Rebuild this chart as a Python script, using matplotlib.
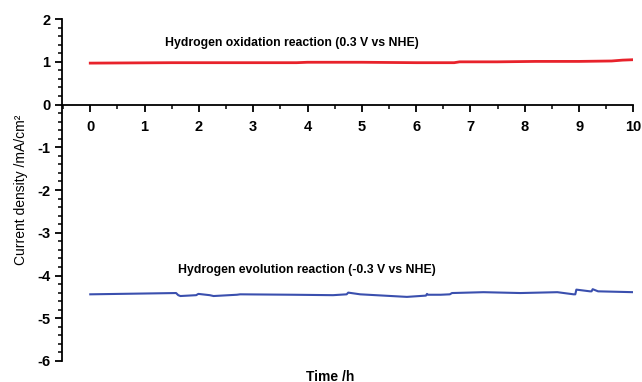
import numpy as np
import matplotlib
matplotlib.use('Agg')
from matplotlib import pyplot as plt
from matplotlib.ticker import MultipleLocator

plt.rcParams['font.family'] = ['Liberation Sans', 'DejaVu Sans']
plt.rcParams['axes.unicode_minus'] = False

# oxidation (red) trace
hor_t = [0.0, 1.5, 2.5, 3.8, 4.0, 5.0, 6.0, 6.7, 6.8, 7.5, 8.2, 9.0, 9.6, 9.8, 10.0]
hor_j = [0.97, 0.98, 0.98, 0.98, 0.99, 0.99, 0.98, 0.98, 1.00, 1.00, 1.01, 1.01, 1.02, 1.04, 1.05]

# evolution (blue) trace
her_t = [0.0, 1.58, 1.62, 1.66, 1.95, 1.99, 2.2, 2.27, 2.7, 2.76, 3.74, 4.47, 4.72, 4.75,
         4.97, 5.83, 6.18, 6.2, 6.22, 6.45, 6.62, 6.66, 7.24, 7.92, 8.6, 8.9, 8.93, 8.95,
         9.2, 9.23, 9.25, 9.35, 10.0]
her_j = [-4.44, -4.41, -4.46, -4.48, -4.46, -4.43, -4.46, -4.48, -4.45, -4.44, -4.45,
         -4.46, -4.44, -4.40, -4.44, -4.50, -4.47, -4.43, -4.45, -4.45, -4.44, -4.41,
         -4.39, -4.41, -4.39, -4.44, -4.44, -4.33, -4.37, -4.37, -4.32, -4.37, -4.39]

x_ticks = list(range(0, 11))
y_ticks = list(range(-6, 3))

fig = plt.figure(figsize=(6.42, 3.82), dpi=100)
ax = fig.add_axes([0.0966, 0.055, 0.89, 0.895])

ax.plot(hor_t, hor_j, color='#e8222b', lw=2.0)
ax.plot(her_t, her_j, color='#3a4fae', lw=1.5)

ax.set_xlim(-0.52, 10)
ax.set_ylim(-6, 2)

ax.spines['top'].set_visible(False)
ax.spines['right'].set_visible(False)
ax.spines['bottom'].set_position(('data', 0))
ax.spines['left'].set_linewidth(1.3)
ax.spines['bottom'].set_linewidth(1.3)

ax.set_xticks(x_ticks)
ax.set_yticks(y_ticks)
ax.xaxis.set_minor_locator(MultipleLocator(0.5))
ax.yaxis.set_minor_locator(MultipleLocator(0.2))
ax.tick_params(axis='both', which='major', direction='out', length=5, width=1.3,
               labelsize=10.5)
ax.tick_params(axis='both', which='minor', direction='out', length=3, width=1.1)
ax.tick_params(axis='x', pad=6)
for lab in ax.get_xticklabels() + ax.get_yticklabels():
    lab.set_fontweight('bold')

ax.set_xlabel('Time /h', fontsize=10, fontweight='bold')
ax.xaxis.set_label_coords(0.469, -0.025)
ax.set_ylabel('Current density /mA/cm²', fontsize=10)
ax.yaxis.set_label_coords(-0.06, 0.5)

ax.text(1.38, 1.43, 'Hydrogen oxidation reaction (0.3 V vs NHE)', fontsize=8.8,
        fontweight='bold', va='center')
ax.text(1.62, -3.88, 'Hydrogen evolution reaction (-0.3 V vs NHE)', fontsize=8.8,
        fontweight='bold', va='center')

fig.savefig('out.png', dpi=100)
